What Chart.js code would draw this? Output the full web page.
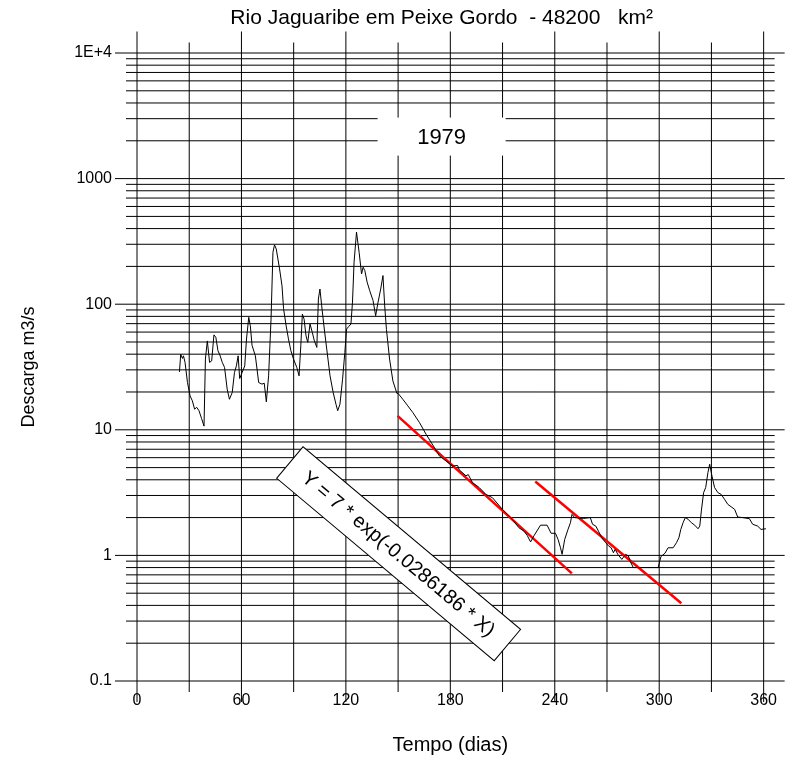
<!DOCTYPE html>
<html>
<head>
<meta charset="utf-8">
<script src="https://cdn.jsdelivr.net/npm/chart.js@4"></script>
<style>
  html, body { margin: 0; padding: 0; background: #fff; }
  canvas { display: block; }
</style>
</head>
<body>
<canvas id="flowChart" width="787" height="765"></canvas>
<script>
// daily discharge (day of year, m3/s)
const days = [24.4, 25.1, 26.1, 26.7, 27.6, 29.0, 30.5, 31.8, 33.1, 34.3, 35.6, 37.1, 38.5, 39.3, 40.4, 41.7, 42.9, 44.2, 45.3, 46.5,
  47.6, 49.0, 50.3, 51.8, 53.1, 54.7, 56.0, 57.1, 58.1, 59.0, 60.4, 61.9, 62.9, 64.2, 65.1, 66.1, 68.0, 69.9, 71.8, 73.1,
  74.3, 75.6, 77.0, 78.1, 79.0, 80.0, 81.9, 83.3, 84.2, 85.7, 87.0, 88.4, 89.9, 91.8, 93.1, 94.1, 95.0, 96.0, 97.1, 98.1,
  99.4, 100.7, 101.9, 103.3, 104.2, 105.1, 106.1, 107.4, 109.0, 110.9, 112.7, 114.3, 115.3, 116.6, 118.1, 119.4, 120.4, 121.7, 122.9, 123.8,
  124.7, 126.1, 127.6, 129.0, 129.9, 130.9, 132.2, 133.7, 135.6, 137.1, 138.5, 140.0, 141.3, 142.3, 143.3, 145.1, 147.0, 149.3, 150.0, 152.7,
  155.6, 158.5, 162.3, 166.1, 170.9, 173.7, 177.5, 181.3, 184.2, 185.1, 189.0, 190.3, 192.7, 196.6, 200.4, 204.2, 209.9, 215.6, 219.4, 222.3,
  224.2, 226.1, 228.0, 231.8, 235.6, 237.9, 240.4, 241.9, 243.3, 244.2, 245.7, 247.6, 249.0, 249.9, 251.4, 256.6, 260.4, 261.7, 263.6, 265.1,
  267.0, 269.3, 270.9, 272.4, 273.7, 274.7, 276.2, 278.5, 280.7, 282.3, 283.3, 285.1, 299.4, 301.0, 303.3, 305.1, 308.0, 309.9, 311.3, 312.4,
  313.7, 315.0, 316.6, 318.5, 320.4, 322.3, 323.3, 324.2, 325.5, 326.7, 328.0, 329.0, 330.3, 331.8, 333.7, 335.6, 337.5, 339.4, 341.3, 343.3,
  345.1, 348.0, 351.8, 353.7, 356.6, 358.5, 361.3, 363.3, 365.1, 366.1];
const flows = [28.9, 40, 37, 38.8, 34.4, 23.8, 18.6, 17.0, 14.6, 15.1, 14.2, 12.3, 10.7, 36.6, 51, 34.4, 35.4, 57, 54.5, 42.6,
  39.4, 34.4, 31.4, 21.1, 17.5, 19.8, 28.6, 32.3, 38.8, 25.6, 28.6, 32.3, 52.8, 78.6, 67.4, 47, 38.8, 23.8, 23.1, 23.5,
  16.7, 26.9, 76, 259, 297, 275, 191, 140, 92, 67, 53, 42.6, 36.6, 31.4, 26.9, 46.7, 83.5, 76, 56, 49.7,
  69.5, 59.7, 51, 45.3, 110, 132, 97, 67, 43.9, 26.9, 19.8, 16.0, 14.2, 16.0, 25.3, 41.3, 63.4, 66.6, 69.5, 104,
  216, 375, 259, 174, 197, 185, 150, 128, 107, 81, 104, 132, 169, 97, 63, 36.6, 24.5, 19.5, 19.5, 17.5,
  15.5, 13.7, 11.4, 9.2, 7.2, 6.2, 5.65, 5.15, 5.2, 4.8, 4.3, 4.4, 3.8, 3.47, 3.06, 2.88, 2.33, 1.94, 1.66, 1.56,
  1.44, 1.28, 1.43, 1.74, 1.74, 1.50, 1.50, 1.34, 1.15, 1.02, 1.34, 1.61, 1.82, 2.12, 2.0, 1.97, 2.0, 1.77, 1.71, 1.56,
  1.38, 1.26, 1.19, 1.15, 1.05, 1.12, 1.02, 0.93, 1.02, 0.99, 0.90, 0.80, 0.80, 0.98, 1.04, 1.15, 1.15, 1.26, 1.38, 1.61,
  1.82, 2.0, 1.94, 1.82, 1.74, 1.63, 1.71, 2.26, 3.16, 3.47, 4.57, 5.32, 4.29, 3.47, 3.16, 3.06, 2.80, 2.55, 2.44, 2.33,
  2.02, 2.0, 1.96, 1.77, 1.71, 1.61, 1.63, 1.74, 1.66, 1.52];

// recession fits (red)
const fit1Days = [149.7, 249.8];
const fit1Flows = [12.9, 0.72];
const fit2Days = [228.8, 312.7];
const fit2Flows = [3.87, 0.416];

const xTicks = [0, 60, 120, 180, 240, 300, 360];
const xTickLabels = ['0', '60', '120', '180', '240', '300', '360'];
const yTicks = [0.1, 1, 10, 100, 1000, 10000];
const yTickLabels = ['0.1', '1', '10', '100', '1000', '1E+4'];

const chartTitle = 'Rio Jaguaribe em Peixe Gordo  - 48200   km²';
const yearLabel = '1979';
const fitLabel = 'Y = 7 * exp(-0.0286186 * X)';

const FONT = '"Liberation Sans", Arial, sans-serif';

function toPoints(xs, ys) {
    return xs.map((x, i) => ({ x: x, y: ys[i] }));
}

// grid like the original plot: lines run past the plotting area
const gridPlugin = {
    id: 'grid',
    beforeDatasetsDraw(chart) {
        const { ctx, chartArea: a, scales: { x, y } } = chart;
        ctx.save();
        ctx.strokeStyle = '#000';
        ctx.lineWidth = 1;
        ctx.beginPath();
        for (let d = 0; d <= 360; d += 30) {
            const px = x.getPixelForValue(d);
            const major = d % 60 === 0;
            ctx.moveTo(px, a.top - (major ? 21.5 : 10.5));
            ctx.lineTo(px, a.bottom + (major ? 21 : 11));
        }
        for (let e = -1; e <= 4; e++) {
            for (let m = 1; m <= 9; m++) {
                if (e === 4 && m > 1) break;
                const v = m * Math.pow(10, e);
                const py = y.getPixelForValue(v);
                const major = m === 1;
                ctx.moveTo(a.left - (major ? 22 : 11), py);
                ctx.lineTo(a.right + (major ? 21 : 11), py);
            }
        }
        ctx.stroke();

        // title centred over the plot
        ctx.fillStyle = '#000';
        ctx.font = '21px ' + FONT;
        ctx.textAlign = 'center';
        ctx.textBaseline = 'middle';
        ctx.fillText(chartTitle, x.getPixelForValue(175), a.top - 35);

        // year box
        const bx = x.getPixelForValue(175);
        const by = y.getPixelForValue(2160);
        ctx.fillStyle = '#fff';
        ctx.fillRect(bx - 64, by - 19, 128, 38);
        ctx.fillStyle = '#000';
        ctx.font = '22px ' + FONT;
        ctx.fillText(yearLabel, bx, by + 1);
        ctx.restore();
    },
    afterDatasetsDraw(chart) {
        const { ctx, scales: { x, y } } = chart;
        const cx = x.getPixelForValue(150.3);
        const cy = y.getPixelForValue(1.03);
        ctx.save();
        ctx.translate(cx, cy);
        ctx.rotate(40 * Math.PI / 180);
        ctx.fillStyle = '#fff';
        ctx.fillRect(-142, -20.5, 284, 41);
        ctx.strokeStyle = '#000';
        ctx.lineWidth = 1;
        ctx.strokeRect(-142, -20.5, 284, 41);
        ctx.fillStyle = '#000';
        ctx.font = '20px ' + FONT;
        ctx.textAlign = 'center';
        ctx.textBaseline = 'middle';
        ctx.fillText(fitLabel, 0, 1);
        ctx.restore();
    }
};

const ctx = document.getElementById('flowChart').getContext('2d');
const flowChart = new Chart(ctx, {
    type: 'line',
    data: {
        datasets: [
            {
                data: toPoints(days, flows),
                borderColor: '#000',
                borderWidth: 1,
                pointRadius: 0,
                tension: 0,
                clip: false
            },
            {
                data: toPoints(fit1Days, fit1Flows),
                borderColor: '#ff0000',
                borderWidth: 2.5,
                pointRadius: 0,
                clip: false
            },
            {
                data: toPoints(fit2Days, fit2Flows),
                borderColor: '#ff0000',
                borderWidth: 2.5,
                pointRadius: 0,
                clip: false
            }
        ]
    },
    options: {
        responsive: false,
        animation: false,
        devicePixelRatio: 1,
        layout: { padding: { top: 53, right: 21, left: 0, bottom: 0 } },
        plugins: {
            legend: { display: false },
            tooltip: { enabled: false },
            title: { display: false }
        },
        scales: {
            x: {
                type: 'linear',
                min: 0,
                max: 360,
                grid: { display: false, drawTicks: false },
                border: { display: false },
                afterBuildTicks: (scale) => { scale.ticks = xTicks.map(v => ({ value: v })); },
                afterFit: (scale) => { scale.height = 84; },
                ticks: {
                    padding: 10,
                    color: '#000',
                    font: { family: FONT, size: 16 },
                    maxRotation: 0,
                    callback: (v) => xTickLabels[xTicks.indexOf(v)]
                },
                title: {
                    display: true,
                    text: 'Tempo (dias)',
                    color: '#000',
                    font: { family: FONT, size: 20 },
                    padding: { top: 0, bottom: 8 }
                }
            },
            y: {
                type: 'logarithmic',
                min: 0.1,
                max: 10000,
                grid: { display: false, drawTicks: false },
                border: { display: false },
                afterBuildTicks: (scale) => { scale.ticks = yTicks.map(v => ({ value: v })); },
                afterFit: (scale) => { scale.width = 137; },
                ticks: {
                    padding: 25,
                    color: '#000',
                    font: { family: FONT, size: 16 },
                    callback: (v) => yTickLabels[yTicks.indexOf(v)]
                },
                title: {
                    display: true,
                    text: 'Descarga m3/s',
                    color: '#000',
                    font: { family: FONT, size: 18 },
                    padding: { top: 18, bottom: 0 }
                }
            }
        }
    },
    plugins: [gridPlugin]
});
</script>
</body>
</html>
